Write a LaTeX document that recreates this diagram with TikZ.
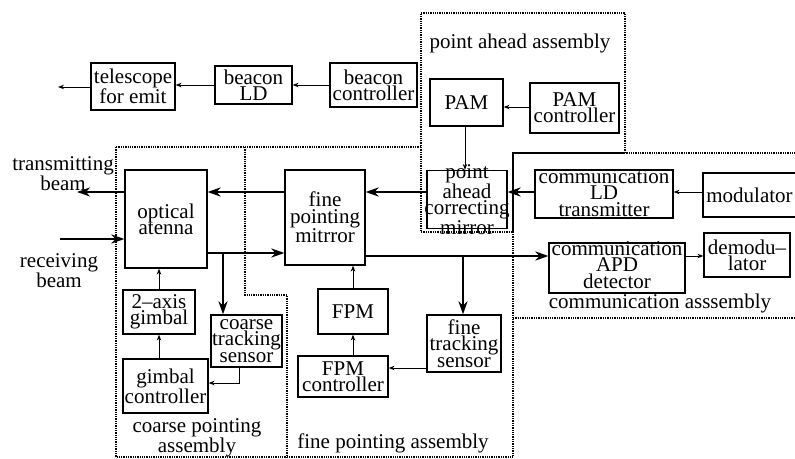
\documentclass[tikz,border=0pt]{standalone}
\usepackage{fontspec}
\setmainfont{Liberation Serif}
\usetikzlibrary{arrows.meta}
\begin{document}
\begin{tikzpicture}[x=1pt,y=-1pt,
  box/.style={draw,line width=1.2pt,inner sep=0pt},
  txt/.style={inner sep=0pt,align=center,font=\fontsize{21}{16.3}\selectfont},
  lbl/.style={inner sep=0pt,align=center,font=\fontsize{21}{16.5}\selectfont},
  thin/.style={line width=1pt,-{Stealth[length=6pt,width=4.5pt]}},
  thick/.style={line width=2.2pt,-{Stealth[length=13pt,width=9pt,inset=4pt]}},
  region/.style={densely dotted,line width=1.3pt}]
\useasboundingbox (0,0) rectangle (795,458);

% assembly outlines
\draw[region] (421,13) -- (625,13) -- (625,153) -- (513,153) -- (513,232) -- (421,232) -- cycle;
\draw[region] (800,153) -- (513,153) -- (513,457);
\draw[region] (513,318) -- (800,318);
\draw[region] (116,147) -- (421,147);
\draw[region] (116,147) -- (116,457) -- (513,457);
\draw[region] (245,147) -- (245,295) -- (287,295) -- (287,457);

% blocks: name, centre x, centre y, width, height, text (optional raise of the text)
\newcommand\blk[7][0]{\node[box,minimum width=#5,minimum height=#6] (#2) at (#3,#4) {};
  \node[txt] at ([yshift=#1pt]#2.center) {#7};}
\blk{tel}{133}{86.5}{84}{47}{telescope\\for emit}
\blk{bld}{253.5}{85}{77}{38}{beacon\\LD}
\blk{bctl}{373.5}{85}{87}{44}{beacon\\controller}
\blk{pam}{466.5}{102.5}{73}{47}{PAM}
\blk{pamc}{574.5}{108}{89}{50}{PAM\\controller}
\blk{pacm}{467}{199.5}{80}{58}{point\\ahead\\correcting\\mirror}
\blk{fpmir}{325}{217.5}{80}{95}{fine\\pointing\\mitrror}
\blk{oa}{166}{219}{82}{98}{optical\\atenna}
\blk[1]{cldt}{604}{194}{138}{48}{communication\\LD\\transmitter}
\blk{mod}{751.5}{195}{97}{44}{\hspace*{-4pt}modulator}
\blk[3]{apd}{617}{268}{136}{50}{communication\\APD\\detector}
\blk{demod}{747}{255}{86}{44}{demodu--\\lator}
\blk{gim}{159}{312}{72}{44}{2--axis\\gimbal}
\blk{cts}{246.5}{341}{71}{52}{coarse\\tracking\\sensor}
\blk{gc}{165.5}{386}{85}{54}{gimbal\\controller}
\blk{fpm}{353}{311.5}{70}{45}{FPM}
\blk{fpmc}{343}{376.5}{90}{41}{FPM\\controller}
\blk{fts}{464}{343.5}{74}{57}{fine\\tracking\\sensor}

% assembly and beam captions
\node[lbl] (lpa) at (520,43) {point ahead assembly};
\node[lbl] (lca) at (660,303) {communication asssembly};
\node[lbl] (lcp) at (197,438) {coarse pointing\\assembly};
\node[lbl] (lfp) at (393,443) {fine pointing assembly};
\node[lbl] (ltx) at (63,174) {transmitting\\beam};
\node[lbl] (lrx) at (59,271) {receiving\\beam};

% beam levels and free ends
\coordinate (up) at (0,192);
\coordinate (lo) at (0,253);
\coordinate (lo2) at (0,256);
\coordinate (txend) at (77,192);
\coordinate (rxstart) at (60,239);
\coordinate (bcend) at (58,87);
\coordinate (br1) at (223,253);
\coordinate (br2) at (463,256);
\coordinate (ctsout) at (239,383);
\coordinate (ftsout) at (0,368);

% beacon chain
\draw[thin] (bctl.west) -- (bctl.west -| bld.east);
\draw[thin] (bld.west) -- (bld.west -| tel.east);
\draw[thin] (tel.west |- bcend) -- (bcend);

% point ahead
\draw[thin] (pamc.west |- 0,107) -- (pam.east |- 0,107);
\draw[thin] (pam.south -| 465,0) -- (pacm.north -| 465,0);

% transmit path
\draw[thin] (mod.west |- up) -- (cldt.east |- up);
\draw[thick] (cldt.west |- up) -- (pacm.east |- up);
\draw[thick] (pacm.west |- up) -- (fpmir.east |- up);
\draw[thick] (fpmir.west |- up) -- (oa.east |- up);
\draw[thick] (oa.west |- txend) -- (txend);

% receive path
\draw[thick] (rxstart) -- (oa.west |- rxstart);
\draw[thick] (oa.east |- lo) -- (fpmir.west |- lo);
\draw[thick,-] (oa.east |- lo) -- (br1);
\draw[thick] (br1) -- (br1 |- cts.north);
\draw[thick] (fpmir.east |- lo2) -- (apd.west |- lo2);
\draw[thick] (br2) -- (br2 |- fts.north);
\draw[thin] (apd.east |- lo2) -- (demod.west |- lo2);

% coarse pointing loop
\draw[thin] (gim.north) -- (gim.north |- oa.south);
\draw[thin] (gim.south |- gc.north) -- (gim.south);
\draw[thin] (cts.south -| ctsout) -- (ctsout) -- (gc.east |- ctsout);

% fine pointing loop
\draw[thin] (fpm.north) -- (fpm.north |- fpmir.south);
\draw[thin] (fpm.south |- fpmc.north) -- (fpm.south);
\draw[thin] (fts.west |- ftsout) -- (fpmc.east |- ftsout);
\end{tikzpicture}
\end{document}
